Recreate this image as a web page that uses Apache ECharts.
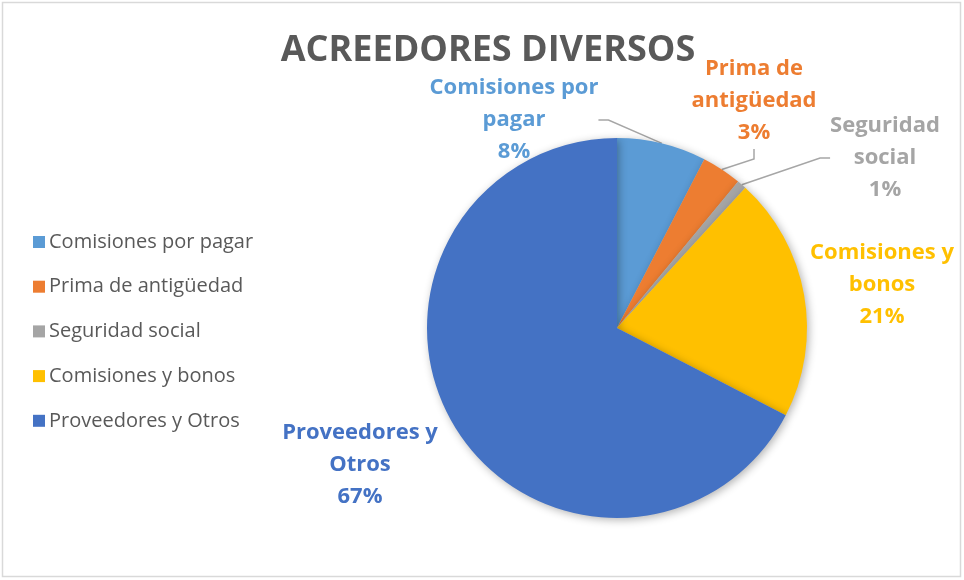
<!DOCTYPE html>
<html><head><meta charset="utf-8">
<script src="https://cdn.jsdelivr.net/npm/echarts@6/dist/echarts.min.js"></script>
<style>html,body{margin:0;padding:0;background:#fff}#c{width:964px;height:580px}</style>
</head><body><div id="c"></div>
<script>
const categories = ['Comisiones por pagar','Prima de antigüedad','Seguridad social','Comisiones y bonos','Proveedores y Otros'];
const labelNames = ['Comisiones por\npagar','Prima de\nantigüedad','Seguridad\nsocial','Comisiones y\nbonos','Proveedores y\nOtros'];
const values = [7.6, 3.4, 0.8, 20.8, 67.4];
const colors = ['#5B9BD5','#ED7D31','#A5A5A5','#FFC000','#4472C4'];
const labelAnchors = [[514,120],[754,101],[885,158],[882,285],[360,465]];
const showLines = [true,true,true,false,false];

const FONT = 'Open Sans';
const chart = echarts.init(document.getElementById('c'));
chart.setOption({
  animation:false,
  title:{text:'ACREEDORES DIVERSOS',left:483,top:28,textAlign:'center',
    textStyle:{fontFamily:FONT,fontSize:36,fontWeight:'bold',color:'#595959'}},
  graphic:[{type:'rect',shape:{x:2.5,y:2.5,width:958,height:574},style:{fill:'none',stroke:'#D9D9D9',lineWidth:1.5},silent:true}],
  legend:{orient:'vertical',left:28,top:226,itemGap:22.7,itemWidth:12,itemHeight:12,icon:'rect',
    data:categories,
    textStyle:{fontFamily:FONT,fontSize:20,lineHeight:22,color:'#595959',padding:[0,0,0,-1]}},
  series:[{
    type:'pie',center:[617,328],radius:190,startAngle:90,clockwise:true,
    avoidLabelOverlap:false,
    itemStyle:{shadowBlur:8,shadowColor:'rgba(0,0,0,0.3)',shadowOffsetX:2,shadowOffsetY:2},
    data:categories.map((n,i)=>({name:n,value:values[i],
      itemStyle:{color:colors[i]},
      label:{color:colors[i]},
      labelLine:{show:showLines[i]}})),
    label:{show:true,position:'outside',fontFamily:FONT,fontSize:22,fontWeight:'bold',lineHeight:32,align:'center',
      formatter:p=>labelNames[p.dataIndex]+'\n'+Math.round(p.percent)+'%'},
    labelLine:{show:true,length:10,length2:10,lineStyle:{color:'#A6A6A6',width:1.5}},
    labelLayout:p=>({x:labelAnchors[p.dataIndex][0],y:labelAnchors[p.dataIndex][1],align:'center',verticalAlign:'middle'})
  }]
});
</script></body></html>
